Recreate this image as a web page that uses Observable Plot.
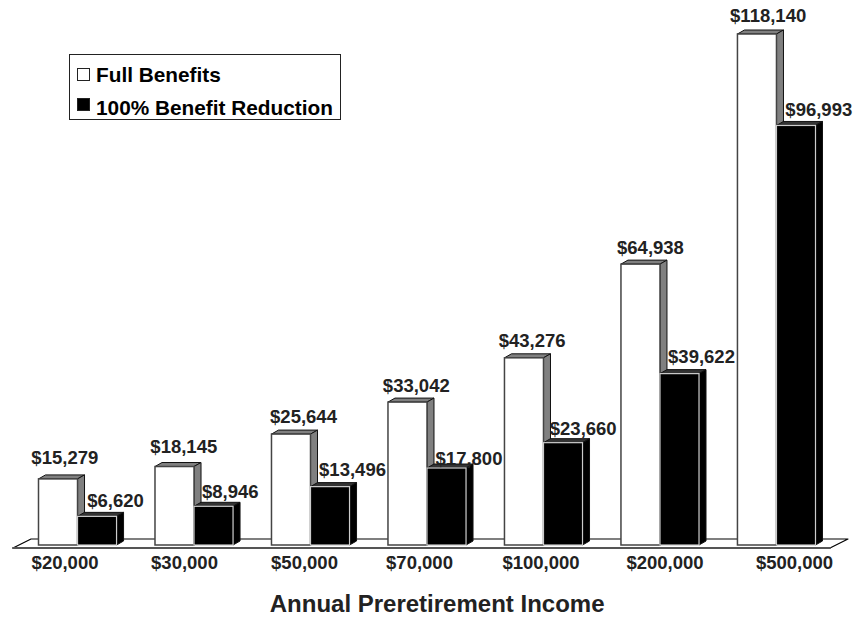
<!DOCTYPE html>
<html>
<head>
<meta charset="utf-8">
<script src="https://cdn.jsdelivr.net/npm/d3@7"></script>
<script src="https://cdn.jsdelivr.net/npm/@observablehq/plot@0.6"></script>
<style>
  html, body { margin: 0; padding: 0; background: #fff; }
  #chart { position: relative; width: 856px; height: 617px; font-family: "Liberation Sans", Arial, sans-serif; }
  #legend { position: absolute; left: 69px; top: 54px; width: 270px; height: 64px; background: #fff; border: 1px solid #222;
            font-weight: bold; font-size: 20.8px; color: #000; }
  #legend div { position: absolute; left: 26px; line-height: 22px; white-space: nowrap; }
  #legend i { position: absolute; left: 7px; width: 11px; height: 11px; border: 1px solid #222; }
</style>
</head>
<body>
<div id="chart">
  <div id="legend">
    <i style="top:13px;background:#fff"></i><div style="top:9px">Full Benefits</div>
    <i style="top:43px;background:#000"></i><div style="top:42px">100% Benefit Reduction</div>
  </div>
</div>
<script>
const incomes = ["$20,000", "$30,000", "$50,000", "$70,000", "$100,000", "$200,000", "$500,000"];
const fullBenefits = [15279, 18145, 25644, 33042, 43276, 64938, 118140];
const benefitReduction = [6620, 8946, 13496, 17800, 23660, 39622, 96993];
const seriesNames = ["Full Benefits", "100% Benefit Reduction"];

// Hand-placed nudges for the labels, in pixels from the default position.
const fullDx = [6.3, 8.8, 12, 8.3, 7.7, 9.5, 10.7];
const fullDy = [-21.2, -19.8, -17.4, -17, -17, -16.4, -18.3];
const reductionDx = [18, 16.2, 22, 22, 19.7, 21.5, 22.3];
const reductionDy = [-15.7, -14.6, -17.3, -9, -13.7, -17, -15.5];
const incomeDx = [-13, -10, -6.5, -8, -3, 4.5, 17.5];

const rows = s => (s === 0 ? fullBenefits : benefitReduction).map((value, i) => ({
  income: incomes[i], series: seriesNames[s], value,
  dx: (s === 0 ? fullDx : reductionDx)[i], dy: (s === 0 ? fullDy : reductionDy)[i]
}));

const depthX = 7, depthY = 4;
const svgNS = "http://www.w3.org/2000/svg";

function polygon(points, fill, stroke, strokeWidth) {
  const p = document.createElementNS(svgNS, "polygon");
  p.setAttribute("points", points.map(d => d.join(",")).join(" "));
  p.setAttribute("fill", fill);
  p.setAttribute("stroke", stroke);
  p.setAttribute("stroke-width", strokeWidth);
  p.setAttribute("stroke-linejoin", "round");
  return p;
}

// Extrudes each bar backwards with a slanted top and right side.
const extrude = (sideFill, lidFill) => function (index, scales, values, dimensions, context, next) {
  const g = next(index, scales, values, dimensions, context);
  const w = scales.x.bandwidth();
  for (const i of index) {
    const x = values.x[i], top = values.y2[i], bottom = values.y1[i];
    const lid = polygon([[x, top], [x + w, top], [x + w + depthX, top - depthY], [x + depthX, top - depthY]], lidFill, "#111", 1);
    const side = polygon([[x + w, top], [x + w + depthX, top - depthY], [x + w + depthX, bottom - depthY], [x + w, bottom]], sideFill, "#111", 1);
    g.insertBefore(side, g.firstChild);
    g.insertBefore(lid, g.firstChild);
  }
  return g;
};

// Floor of the plot, a slanted slab the bars stand on.
function floor(index, scales, values, dimensions) {
  const g = document.createElementNS(svgNS, "g");
  const base = dimensions.height - dimensions.marginBottom;
  g.appendChild(polygon([[13, base + 3], [31, base - 6], [848, base - 6], [830, base + 3]], "#fff", "#000", 1.2));
  g.appendChild(polygon([[13, base + 3], [830, base + 3]], "none", "#555", 2));
  return g;
}

const valueLabel = s => rows(s).map(d => Plot.text([d], {
  fx: "income", x: "series", y: "value", text: r => "$" + d3.format(",")(r.value),
  dx: d.dx, dy: d.dy, fontSize: 18.5, fontWeight: "bold", fill: "#222"
}));

const chart = Plot.plot({
  width: 856, height: 617,
  marginTop: 34, marginBottom: 72, marginLeft: 38.5, marginRight: 40.5,
  style: { fontFamily: "'Liberation Sans', Arial, sans-serif", background: "transparent" },
  fx: { domain: incomes, axis: null, paddingInner: 0.33, paddingOuter: 0, round: false },
  x: { domain: seriesNames, axis: null, padding: 0, round: false },
  y: { domain: [0, 118140], axis: null, nice: false },
  color: { domain: seriesNames, range: ["#fff", "#000"] },
  marks: [
    Plot.frame({ facet: "super", stroke: "none", render: floor }),
    Plot.barY(rows(0), { fx: "income", x: "series", y: "value", fill: "series", stroke: "#444", strokeWidth: 1.5,
      render: extrude("#808080", "#808080") }),
    Plot.barY(rows(1), { fx: "income", x: "series", y: "value", fill: "series", stroke: "#ccc", strokeWidth: 1.2,
      render: extrude("#000", "#333") }),
    valueLabel(0),
    valueLabel(1),
    incomes.map((d, i) => Plot.text([d], {
      fx: r => r, text: r => r, frameAnchor: "bottom", lineAnchor: "middle",
      dx: incomeDx[i], dy: 18, fontSize: 18.5, fontWeight: "bold", fill: "#222"
    })),
    Plot.text(["Annual Preretirement Income"], {
      facet: "super", frameAnchor: "bottom", lineAnchor: "middle", dx: 9.6, dy: 59,
      fontSize: 24, fontWeight: "bold", fill: "#222"
    })
  ]
});
document.getElementById("chart").prepend(chart);
</script>
</body>
</html>
